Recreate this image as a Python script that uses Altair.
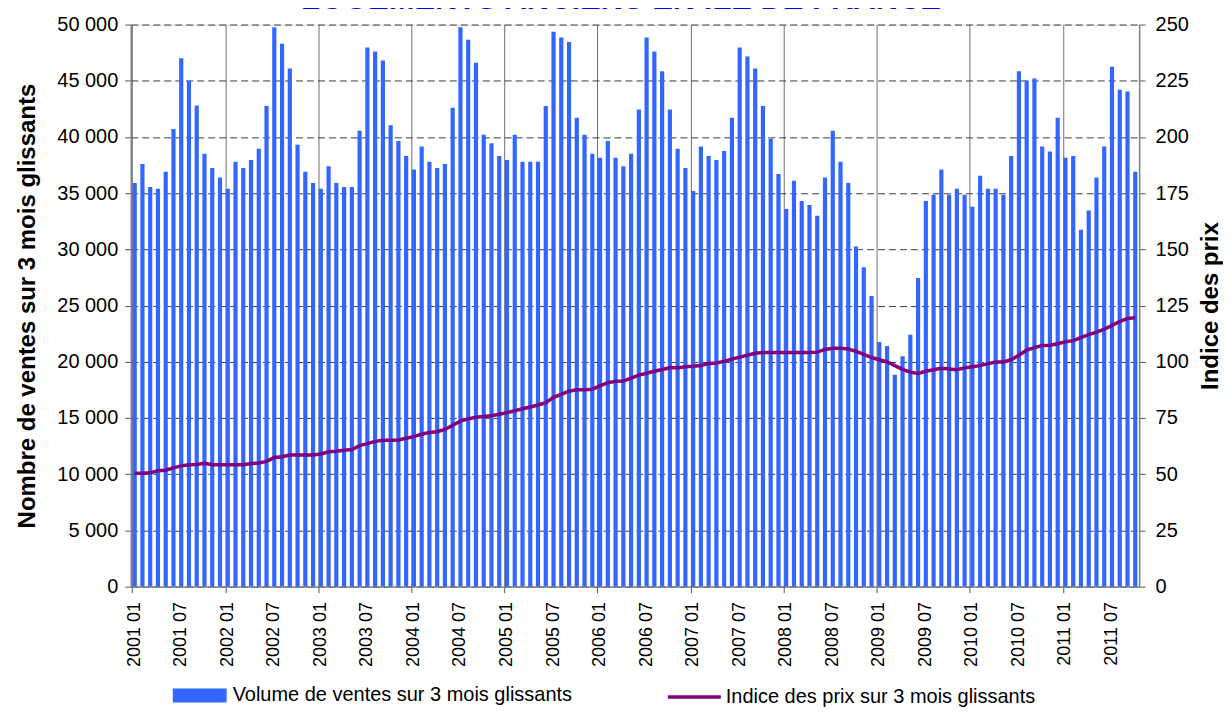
import altair as alt
import pandas as pd

years = list(range(2001, 2012))

volumes = [
    35900, 37600, 35550, 35400, 36900, 40700, 47000, 45000, 42800, 38500, 37250, 36400,
    35400, 37800, 37250, 37950, 38950, 42750, 49750, 48300, 46100, 39300, 36900, 35900,
    35400, 37400, 35900, 35550, 35550, 40550, 47950, 47600, 46800, 41050, 39650, 38300,
    37100, 39150, 37800, 37250, 37600, 42600, 49750, 48650, 46600, 40200, 39450, 38300,
    37950, 40200, 37800, 37800, 37800, 42750, 49350, 48850, 48450, 41700, 40200, 38500,
    38150, 39650, 38150, 37400, 38500, 42450, 48850, 47600, 45850, 42450, 38950, 37250,
    35200, 39150, 38300, 37950, 38750, 41700, 47950, 47150, 46100, 42750, 39850, 36700,
    33600, 36100, 34300, 33950, 33000, 36400, 40550, 37800, 35900, 30250, 28400, 25850,
    21750, 21400, 18850, 20500, 22400, 27450, 34300, 34850, 37100, 34850, 35400, 34850,
    33800, 36550, 35400, 35400, 34850, 38300, 45850, 45000, 45200, 39150, 38700, 41700,
    38150, 38300, 31750, 33450, 36400, 39150, 46250, 44200, 44050, 36900,
]

prices = [
    50.4, 50.4, 50.6, 51.5, 51.8, 52.8, 53.7, 54.2, 54.3, 54.9, 54.2, 54.2,
    54.2, 54.2, 54.2, 54.8, 55.0, 55.7, 57.4, 57.8, 58.5, 58.5, 58.5, 58.5,
    59.0, 60.0, 60.2, 60.7, 61.0, 62.7, 63.6, 64.6, 65.1, 65.1, 65.2, 66.0,
    66.7, 67.8, 68.6, 68.9, 69.9, 71.8, 73.6, 74.6, 75.3, 75.7, 76.0, 76.7,
    77.4, 78.2, 79.1, 79.9, 80.8, 81.8, 84.2, 85.5, 86.9, 87.6, 87.6, 87.8,
    89.3, 90.7, 91.3, 91.4, 92.7, 94.1, 94.9, 95.8, 96.6, 97.3, 97.3, 97.8,
    98.0, 98.3, 99.2, 99.5, 100.2, 101.2, 102.1, 102.9, 103.8, 104.1, 104.1, 104.1,
    104.1, 104.1, 104.1, 104.1, 104.3, 105.5, 106.0, 106.0, 105.7, 104.6, 103.3, 101.9,
    100.9, 100.0, 98.3, 96.6, 95.4, 94.8, 95.8, 96.5, 97.1, 96.8, 96.5, 97.3,
    97.8, 98.3, 99.2, 99.9, 99.9, 100.9, 102.9, 105.2, 106.3, 107.2, 107.4, 108.0,
    108.9, 109.4, 110.8, 112.1, 113.2, 114.5, 116.2, 117.9, 119.3, 119.6,
]

months = [f"{y} {m:02d}" for y in years for m in range(1, 13)][: len(volumes)]
label_months = [m for m in months if m.endswith(" 01") or m.endswith(" 07")]

vol_name = "Volume de ventes sur 3 mois glissants"
price_name = "Indice des prix sur 3 mois glissants"

df = pd.DataFrame({
    "mois": months,
    "volume": volumes,
    "prix": prices,
    "s_vol": vol_name,
    "s_prix": price_name,
})

FONT = "Liberation Sans"
JAN = "slice(datum.value, 5) == '01'"

x_enc = alt.X(
    "mois:O",
    sort=months,
    scale=alt.Scale(paddingInner=0.46, paddingOuter=0.23),
    axis=alt.Axis(
        title=None,
        values=label_months,
        bandPosition=0,
        labelAngle=270,
        labelFontSize=18,
        labelColor="black",
        labelPadding=9,
        labelFont=FONT,
        tickSize=6,
        tickColor={"condition": {"test": JAN, "value": "#555555"}, "value": "transparent"},
        grid=True,
        gridColor={"condition": {"test": JAN, "value": "#6e6e6e"}, "value": "transparent"},
        gridWidth=1,
        domainColor="#808080",
        domainWidth=1.5,
    ),
)

bars = alt.Chart(df).mark_bar().encode(
    x=x_enc,
    y=alt.Y(
        "volume:Q",
        scale=alt.Scale(domain=[0, 50000], nice=False),
        axis=alt.Axis(
            title="Nombre de ventes sur 3 mois glissants",
            titleFontSize=24,
            titleFontWeight="bold",
            titleFont=FONT,
            titleColor="black",
            titlePadding=17,
            values=list(range(0, 50001, 5000)),
            labelExpr="replace(format(datum.value, ','), ',', ' ')",
            labelFontSize=20,
            labelFont=FONT,
            labelColor="black",
            labelPadding=7,
            tickSize=6,
            tickColor="#555555",
            domainColor="#808080",
            domainWidth=1.5,
            grid=True,
            gridColor="#3a3a3a",
            gridDash=[7, 4],
            gridWidth=1,
        ),
    ),
    color=alt.Color(
        "s_vol:N",
        scale=alt.Scale(domain=[vol_name], range=["#3366ff"]),
        legend=alt.Legend(
            title=None,
            orient="none",
            legendX=42,
            legendY=645,
            symbolType="M-1,-0.26H1V0.26H-1Z",
            symbolSize=2916,
            symbolStrokeWidth=0,
            symbolOpacity=1,
            labelFontSize=20,
            labelFont=FONT,
            labelColor="black",
            labelOffset=6,
            labelLimit=500,
            padding=0,
        ),
    ),
)

line = alt.Chart(df).mark_line(strokeWidth=3.5).encode(
    x=alt.X("mois:O", sort=months),
    y=alt.Y(
        "prix:Q",
        scale=alt.Scale(domain=[0, 250], nice=False),
        axis=alt.Axis(
            title="Indice des prix",
            orient="right",
            titleAngle=270,
            titleBaseline="top",
            titleFontSize=24,
            titleFontWeight="bold",
            titleFont=FONT,
            titleColor="black",
            titlePadding=10,
            values=list(range(0, 251, 25)),
            labelFontSize=20,
            labelFont=FONT,
            labelColor="black",
            labelPadding=10,
            tickSize=6,
            tickColor="#555555",
            domainColor="#808080",
            domainWidth=1.5,
            grid=False,
        ),
    ),
    stroke=alt.Stroke(
        "s_prix:N",
        scale=alt.Scale(domain=[price_name], range=["#800080"]),
        legend=alt.Legend(
            title=None,
            orient="none",
            legendX=536,
            legendY=645,
            symbolType="stroke",
            symbolSize=2809,
            symbolStrokeWidth=3.5,
            labelFontSize=20,
            labelFont=FONT,
            labelColor="black",
            labelOffset=3,
            labelLimit=500,
            padding=0,
        ),
    ),
)

chart = (
    alt.layer(bars, line)
    .resolve_scale(y="independent")
    .properties(
        width=1010,
        height=563,
        title=alt.TitleParams(
            "LOGEMENTS ANCIENS EN ILE DE FRANCE",
            font=FONT,
            fontSize=31,
            fontWeight="bold",
            color="#0000ff",
            anchor="middle",
            frame="group",
            baseline="alphabetic",
            offset=-25,
            dx=-14,
        ),
        autosize=alt.AutoSizeParams(type="none"),
        padding={"left": 123, "top": 16, "right": 84, "bottom": 121},
    )
    .configure_view(stroke=None)
    .configure(font=FONT, background="white")
)

chart.save("out.html", embed_options={"renderer": "svg", "actions": False})
